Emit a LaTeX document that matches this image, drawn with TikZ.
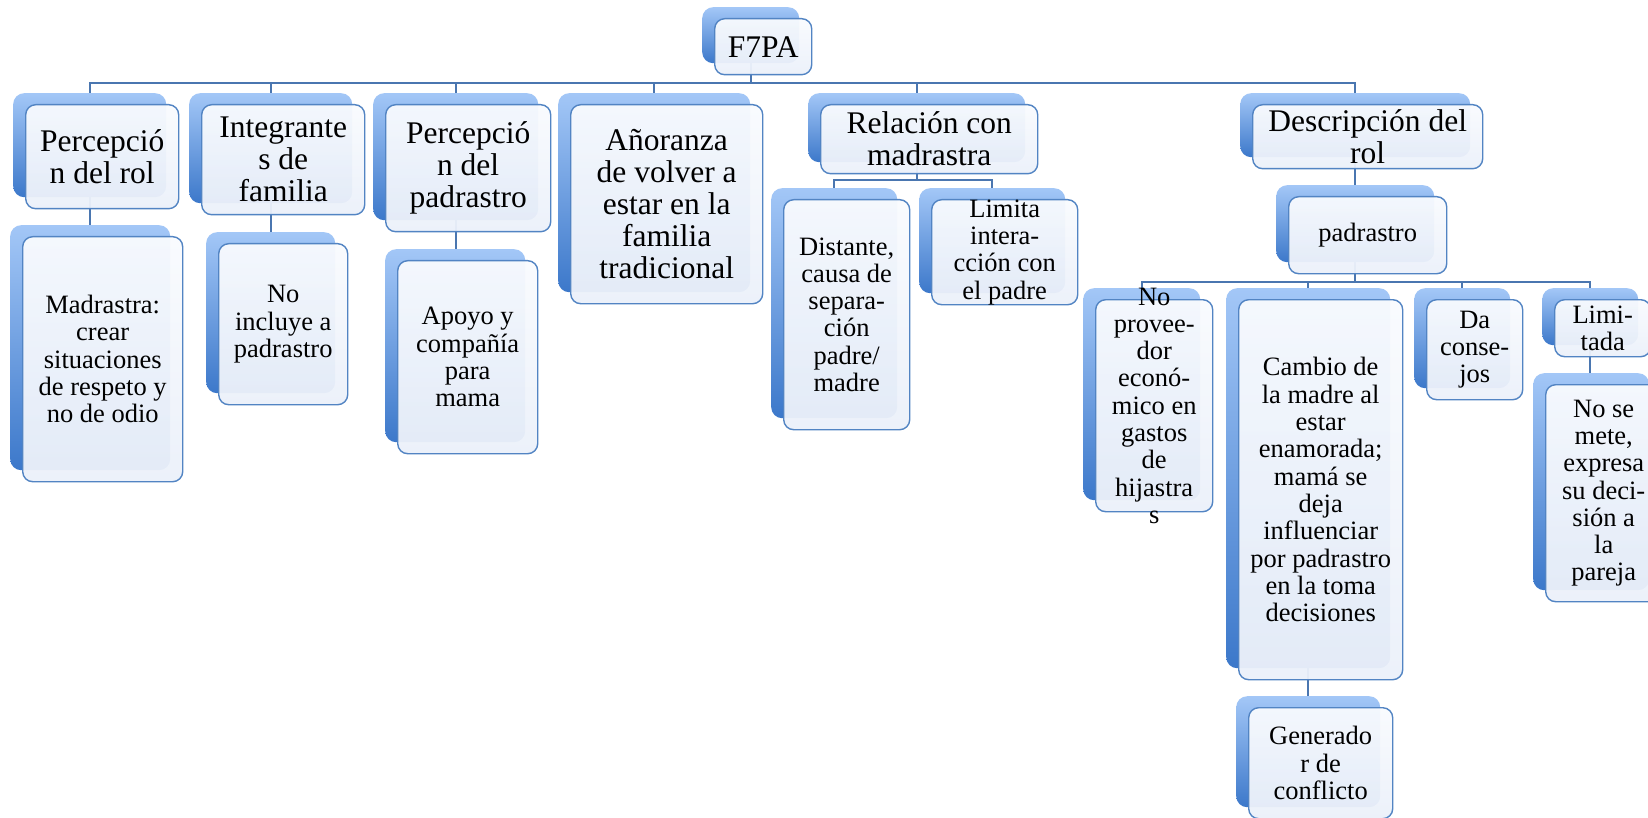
\documentclass[tikz,border=0pt]{standalone}
\usepackage{fontspec}
\setmainfont{Liberation Serif}
\pgfdeclarelayer{bg}
\pgfsetlayers{bg,main}
\definecolor{backtop}{RGB}{163,199,247}
\definecolor{backbot}{RGB}{60,120,202}
\definecolor{fronttop}{RGB}{249,251,254}
\definecolor{frontbot}{RGB}{236,241,250}
\definecolor{frontline}{RGB}{82,132,195}
\definecolor{linecol}{RGB}{74,118,176}
\tikzset{
  bk/.style={anchor=north west, inner sep=0pt, rounded corners=11pt, top color=backtop, bottom color=backbot, draw=none},
  fr/.style={anchor=north west, inner sep=0pt, rounded corners=10pt, draw=frontline, line width=1.4pt, top color=fronttop, bottom color=frontbot, fill opacity=0.95},
  txt/.style={inner sep=0pt, align=center, text=black},
  lone/.style={font=\fontsize{31.5}{32}\selectfont},
  ltwo/.style={font=\fontsize{26.5}{27.3}\selectfont},
  conn/.style={draw=linecol, line width=1.6pt},
}
% name, x1, y1, x2, y2 (back box), style, text
\newcommand\tnode[7]{%
  \node[bk, minimum width={#4-#2}, minimum height={#5-#3}] (#1b) at (#2,#3) {};
  \node[fr, minimum width={#4-#2}, minimum height={#5-#3}] (#1) at ({#2+12},{#3+11}) {};
  \node[txt, #6] (#1t) at (#1.center) {#7};
}
\begin{document}
\begin{tikzpicture}[x=1pt,y=-1pt]
\useasboundingbox (0,0) rectangle (1648,818);
\tnode{f7}{702}{7}{799}{63}{lone}{F7PA}
\tnode{rol}{13}{93}{166}{197}{lone}{Percepció\\n del rol}
\tnode{mad}{10}{225}{170}{470}{ltwo}{Madrastra:\\crear\\situaciones\\de respeto y\\no de odio}
\tnode{int}{189}{93}{352}{203}{lone}{Integrante\\s de\\familia}
\tnode{noinc}{206}{232}{335}{393}{ltwo}{No\\incluye a\\padrastro}
\tnode{perc}{373}{93}{538}{220}{lone}{Percepció\\n del\\padrastro}
\tnode{apoyo}{385}{249}{525}{442}{ltwo}{Apoyo y\\compañía\\para\\mama}
\tnode{anor}{558}{93}{750}{292}{lone}{Añoranza\\de volver a\\estar en la\\familia\\tradicional}
\tnode{rel}{808}{93}{1025}{162}{lone}{Relación con\\madrastra}
\tnode{dist}{771}{188}{897}{418}{ltwo}{Distante,\\causa de\\separa-\\ción\\padre/\\madre}
\tnode{lim}{919}{188}{1065}{293}{ltwo}{Limita\\intera-\\cción con\\el padre}
\tnode{desc}{1240}{93}{1470}{157}{lone}{Descripción del\\rol}
\tnode{pad}{1276}{185}{1434}{262}{ltwo}{padrastro}
\tnode{nop}{1083}{288}{1200}{500}{ltwo}{No\\provee-\\dor\\econó-\\mico en\\gastos\\de\\hijastra\\s}
\tnode{camb}{1226}{288}{1390}{668}{ltwo}{Cambio de\\la madre al\\estar\\enamorada;\\mamá se\\deja\\influenciar\\por padrastro\\en la toma\\decisiones}
\tnode{gen}{1236}{696}{1380}{807}{ltwo}{Generado\\r de\\conflicto}
\tnode{da}{1414}{288}{1510}{388}{ltwo}{Da\\conse-\\jos}
\tnode{limt}{1542}{288}{1638}{345}{ltwo}{Limi-\\tada}
\tnode{nose}{1533}{373}{1649}{590}{ltwo}{No se\\mete,\\expresa\\su deci-\\sión a\\la\\pareja}
\coordinate (bus1) at (0,83);
\coordinate (bus2) at (0,180);
\coordinate (bus3) at (0,282);
\begin{pgfonlayer}{bg}
  \fill[white] (0,0) rectangle (1648,818);
  \foreach \c in {rolb,intb,percb,anorb,relb,descb}
    \draw[conn] (f7b.south) -- (f7b.south |- bus1) -| (\c.north);
  \draw[conn] (rolb.south) -- (rolb.south |- madb.north);
  \draw[conn] (intb.south) -- (intb.south |- noincb.north);
  \draw[conn] (percb.south) -- (percb.south |- apoyob.north);
  \foreach \c in {distb,limb}
    \draw[conn] (relb.south) -- (relb.south |- bus2) -| (\c.north);
  \draw[conn] (descb.south) -- (descb.south |- padb.north);
  \foreach \c in {nopb,cambb,dab,limtb}
    \draw[conn] (padb.south) -- (padb.south |- bus3) -| (\c.north);
  \draw[conn] (cambb.south) -- (cambb.south |- genb.north);
  \draw[conn] (limtb.south) -- (limtb.south |- noseb.north);
\end{pgfonlayer}
\end{tikzpicture}
\end{document}
